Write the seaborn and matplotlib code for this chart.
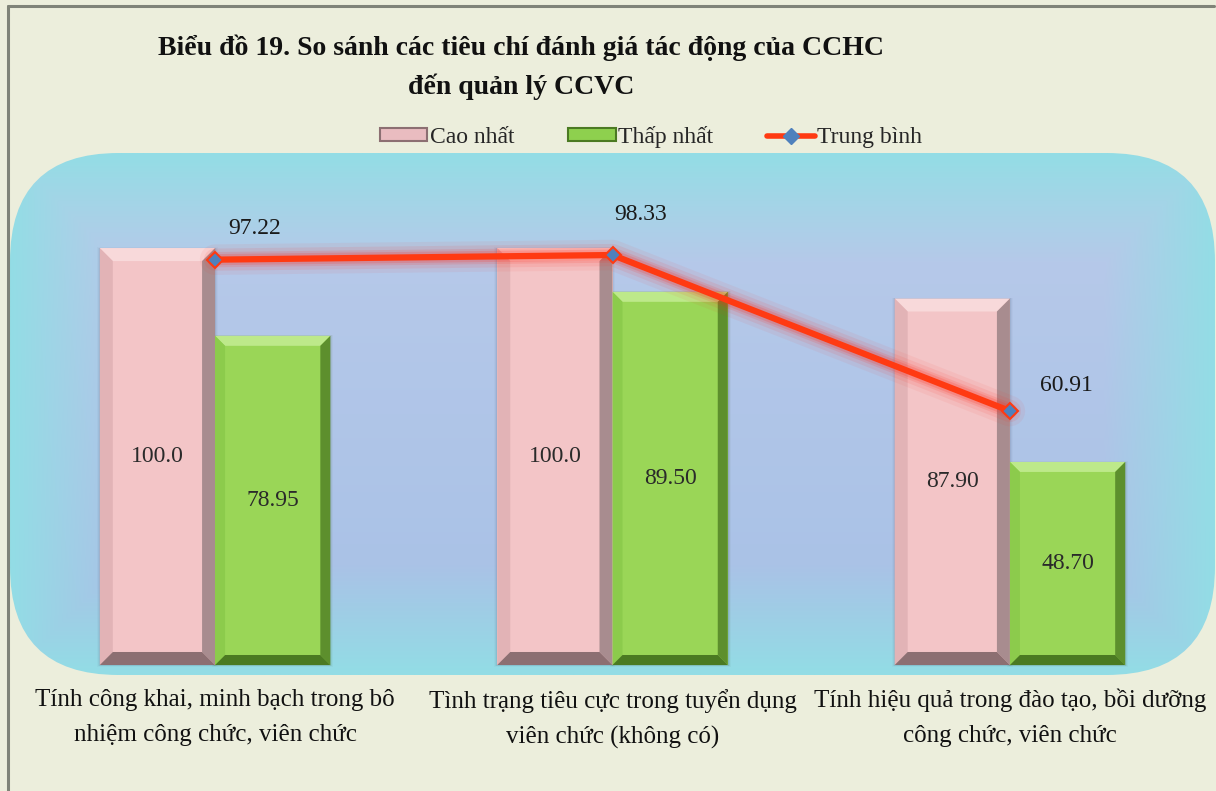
import numpy as np
import pandas as pd
import matplotlib
matplotlib.use("Agg")
import matplotlib.pyplot as plt
import seaborn as sns
from matplotlib.patches import FancyBboxPatch, Polygon, Rectangle
from matplotlib.lines import Line2D

# ---------------- data ----------------
categories = [
    "Tính công khai, minh bạch trong bô\nnhiệm công chức, viên chức",
    "Tình trạng tiêu cực trong tuyển dụng\nviên chức (không có)",
    "Tính hiệu quả trong đào tạo, bồi dưỡng\ncông chức, viên chức",
]
series_names = ["Cao nhất", "Thấp nhất", "Trung bình"]
highest = [100.0, 100.0, 87.90]
lowest = [78.95, 89.50, 48.70]
average = [97.22, 98.33, 60.91]
bar_labels_high = ["100.0", "100.0", "87.90"]
bar_labels_low = ["78.95", "89.50", "48.70"]
avg_labels = ["97.22", "98.33", "60.91"]
title = "Biểu đồ 19. So sánh các tiêu chí đánh giá tác động của CCHC\nđến quản lý CCVC"

# ---------------- style ----------------
sns.set_theme(style="white")
plt.rcParams["font.family"] = ["Liberation Serif", "DejaVu Serif"]

W, H, DPI = 1216, 791, 100
fig = plt.figure(figsize=(W / DPI, H / DPI), dpi=DPI)
fig.patch.set_facecolor("#ECEEDC")

# outer frame lines (gray) at left & top
fig.add_artist(Line2D([8 / W, 8 / W], [0, 1 - 6 / H], color="#7F8378", lw=2.2))
fig.add_artist(Line2D([8 / W, 1214 / W], [1 - 6 / H, 1 - 6 / H], color="#7F8378", lw=2.2))

ax_l, ax_r, ax_t, ax_b = 10, 1215, 153, 675
ax = fig.add_axes([ax_l / W, 1 - ax_b / H, (ax_r - ax_l) / W, (ax_b - ax_t) / H])
ax.set_facecolor("none")
for s in ax.spines.values():
    s.set_visible(False)

# background rounded box with gradient
box = FancyBboxPatch((0, 0), 1, 1, boxstyle="round,pad=0,rounding_size=0.09",
                     transform=ax.transAxes, facecolor="none", edgecolor="none",
                     mutation_aspect=(ax_r - ax_l) / (ax_b - ax_t))
ax.add_patch(box)
ny, nx = 260, 600
yy, xx = np.mgrid[0:1:ny * 1j, 0:1:nx * 1j]
px = xx * (ax_r - ax_l)
py = yy * (ax_b - ax_t)
d = np.minimum.reduce([px, (ax_r - ax_l) - px, py * 1.0, (ax_b - ax_t) - py])
t = np.clip(d / 110.0, 0, 1)
outer = np.array([0x93, 0xDD, 0xE5]) / 255
inner_top = np.array([0xA6, 0xC0, 0xE6]) / 255
inner_bot = np.array([0xBA, 0xCB, 0xEA]) / 255
inner = inner_top[None, None, :] * (1 - yy[..., None]) + inner_bot[None, None, :] * yy[..., None]
img = outer[None, None, :] * (1 - t[..., None]) + inner * t[..., None]
im = ax.imshow(img, extent=[0, 1, 1, 0], transform=ax.transAxes, aspect="auto",
               interpolation="bilinear", zorder=0)
im.set_clip_path(box)

# ---------------- bars ----------------
df = pd.DataFrame({
    "cat": categories * 2,
    "val": highest + lowest,
    "series": [series_names[0]] * 3 + [series_names[1]] * 3,
})
pink, green = "#F3C5C7", "#9AD657"
sns.barplot(data=df, x="cat", y="val", hue="series", palette=[pink, green],
            width=0.58, gap=0, ax=ax, legend=False, linewidth=0, saturation=1, zorder=2)

xmin, xmax = -0.516, 2.516
ymin, ymax = -2.4, 122.8
ax.set_xlim(xmin, xmax)
ax.set_ylim(ymin, ymax)
ux = (xmax - xmin) / (ax_r - ax_l)   # data per pixel
uy = (ymax - ymin) / (ax_b - ax_t)

bevel_cols = {
    pink: dict(top="#F8D9DA", left="#E2B3B6", right="#A88C8F", bot="#8C6F72", shadow="#50607A"),
    green: dict(top="#BDE98A", left="#8CCB4C", right="#5D8F2D", bot="#4B7A22", shadow="#3A5A20"),
}
bars = [p for p in ax.patches if isinstance(p, Rectangle) and p.get_height() > 0]
for p in bars:
    x0, y0, w, h = p.get_x(), p.get_y(), p.get_width(), p.get_height()
    x1, y1 = x0 + w, y0 + h
    fc = matplotlib.colors.to_hex(p.get_facecolor())
    cols = bevel_cols[pink] if fc.lower() == pink.lower() else bevel_cols[green]
    b = 13 if cols is bevel_cols[pink] else 10
    bx, by = b * ux, b * uy
    # soft shadow
    for k, a in enumerate([0.10, 0.07, 0.04]):
        off = (k + 1) * 2
        ax.add_patch(Rectangle((x0 - off * ux * 0.5, y0 - off * uy * 0.3), w + off * ux, h + off * uy * 0.4,
                               facecolor=cols["shadow"], alpha=a, lw=0, zorder=1.5))
    ax.add_patch(Polygon([(x0, y1), (x1, y1), (x1 - bx, y1 - by), (x0 + bx, y1 - by)],
                         closed=True, facecolor=cols["top"], lw=0, zorder=2.5))
    ax.add_patch(Polygon([(x0, y0), (x0, y1), (x0 + bx, y1 - by), (x0 + bx, y0 + by)],
                         closed=True, facecolor=cols["left"], lw=0, zorder=2.5))
    ax.add_patch(Polygon([(x1, y0), (x1, y1), (x1 - bx, y1 - by), (x1 - bx, y0 + by)],
                         closed=True, facecolor=cols["right"], lw=0, zorder=2.5))
    ax.add_patch(Polygon([(x0, y0), (x1, y0), (x1 - bx, y0 + by), (x0 + bx, y0 + by)],
                         closed=True, facecolor=cols["bot"], lw=0, zorder=2.5))

# labels inside bars
hi_bars = sorted([p for p in bars if matplotlib.colors.to_hex(p.get_facecolor()).lower() == pink.lower()],
                 key=lambda p: p.get_x())
lo_bars = sorted([p for p in bars if matplotlib.colors.to_hex(p.get_facecolor()).lower() == green.lower()],
                 key=lambda p: p.get_x())
for p, lab in zip(hi_bars, bar_labels_high):
    ax.text(p.get_x() + p.get_width() / 2, p.get_height() / 2, lab, ha="center", va="center",
            fontsize=17, color="#2A2A2A", zorder=4)
for p, lab in zip(lo_bars, bar_labels_low):
    ax.text(p.get_x() + p.get_width() / 2, p.get_height() / 2, lab, ha="center", va="center",
            fontsize=17, color="#2A2A2A", zorder=4)

# ---------------- average line with glow ----------------
xpos = np.arange(len(categories))
for lw, a in [(22, 0.06), (16, 0.09), (11, 0.13), (8, 0.18)]:
    ax.plot(xpos, average, color="#FF2A1A", lw=lw, alpha=a, solid_capstyle="round", zorder=5)
sns.pointplot(x=xpos, y=average, native_scale=True, color="#FF3A12", markers="D",
              linestyles="-", ax=ax, zorder=6)
for ln in ax.lines:
    if ln.get_marker() == "D":
        ln.set_linewidth(4.5)
        ln.set_markersize(8)
        ln.set_markerfacecolor("#4F81BD")
        ln.set_markeredgecolor("#FF3A12")
        ln.set_markeredgewidth(1.5)
        ln.set_zorder(6)
label_offsets = [(40, 31), (28, 41), (57, 26)]
for xv, yv, lab, (dx, dy) in zip(xpos, average, avg_labels, label_offsets):
    ax.annotate(lab, (xv, yv), xytext=(dx, dy), textcoords="offset pixels",
                ha="center", va="center", fontsize=17, color="#1A1A1A", zorder=7)

ax.set_xlim(xmin, xmax)
ax.set_ylim(ymin, ymax)
ax.set_xlabel("")
ax.set_ylabel("")
ax.set_yticks([])
ax.set_xticks(xpos)
ax.set_xticklabels(categories, fontsize=18, color="#111111", linespacing=1.75)
ax.tick_params(axis="x", length=0, pad=10)

# ---------------- legend ----------------
def bevel_handle(fc, ec):
    return Rectangle((0, 0), 1, 1, facecolor=fc, edgecolor=ec, lw=1.5)

handles = [
    bevel_handle("#E9BCC0", "#8C6F72"),
    bevel_handle("#8ED04E", "#4B7A22"),
    Line2D([], [], color="#FF3A12", lw=4, marker="D", markersize=8,
           markerfacecolor="#4F81BD", markeredgecolor="#4F81BD"),
]
fig.legend(handles, series_names, loc="center", bbox_to_anchor=(651 / W, 1 - 137 / H),
           ncol=3, frameon=False, fontsize=17, handlelength=2.0, handleheight=0.45,
           handletextpad=0.1, columnspacing=2.3)

# ---------------- title ----------------
fig.text(521 / W, 1 - 67 / H, title, ha="center", va="center", fontsize=20,
         fontweight="bold", color="#111111", linespacing=1.62)

fig.savefig("out.png", dpi=DPI, facecolor=fig.get_facecolor())
